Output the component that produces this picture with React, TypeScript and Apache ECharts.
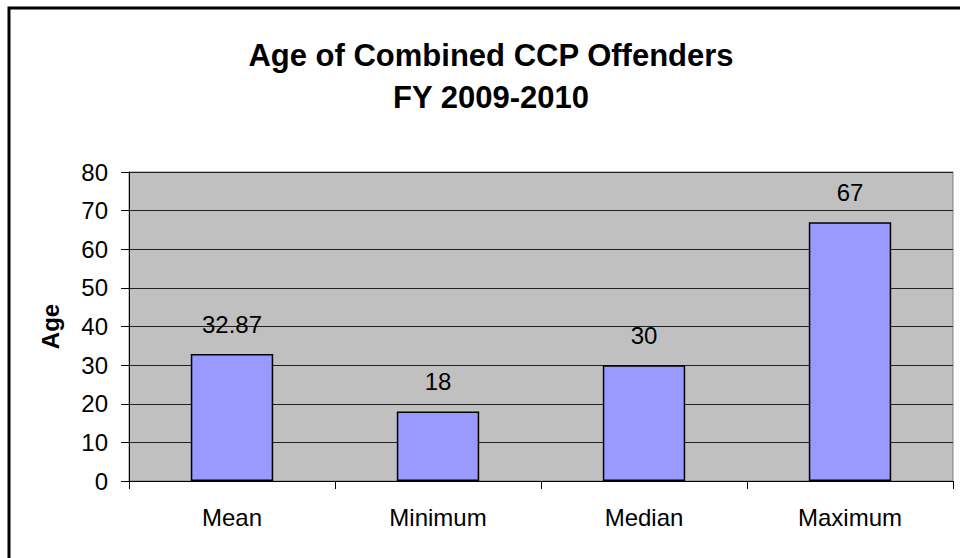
import React, { useEffect, useRef } from "react";
import * as echarts from "echarts";

const categories = ["Mean", "Minimum", "Median", "Maximum"];
const values = [32.87, 18, 30, 67];
const titleLines = ["Age of Combined CCP Offenders", "FY 2009-2010"];
const yAxisName = "Age";

const FONT = "'Liberation Sans', Arial, Helvetica, sans-serif";

export default function App() {
  const ref = useRef<HTMLDivElement>(null);
  useEffect(() => {
    if (!ref.current) return;
    const chart = echarts.init(ref.current, null, { renderer: "svg" });
    chart.setOption({
      animation: false,
      backgroundColor: "#ffffff",
      title: {
        text: titleLines.join("\n"),
        left: 491,
        top: 34,
        padding: 0,
        textAlign: "center",
        textStyle: {
          fontFamily: FONT,
          fontSize: 31,
          fontWeight: "bold",
          color: "#000",
          lineHeight: 42,
        },
      },
      graphic: [
        {
          type: "rect",
          shape: { x: 9, y: 8, width: 970, height: 570 },
          style: { fill: "none", stroke: "#000", lineWidth: 3 },
          silent: true,
        },
      ],
      grid: {
        left: 129,
        right: 7,
        top: 172,
        bottom: 77,
        show: true,
        backgroundColor: "#C0C0C0",
        borderColor: "#808080",
        borderWidth: 1,
      },
      xAxis: {
        type: "category",
        data: categories,
        boundaryGap: true,
        axisLine: { lineStyle: { color: "#000", width: 1 } },
        axisTick: { show: true, length: 8, alignWithLabel: false, lineStyle: { color: "#000" } },
        axisLabel: { fontFamily: FONT, fontSize: 24, color: "#000", margin: 24 },
      },
      yAxis: {
        type: "value",
        min: 0,
        max: 80,
        interval: 10,
        name: yAxisName,
        nameLocation: "middle",
        nameGap: 67,
        nameRotate: 90,
        nameTextStyle: { fontFamily: FONT, fontSize: 24, fontWeight: "bold", color: "#000" },
        axisLine: { show: true, lineStyle: { color: "#000", width: 1 } },
        axisTick: { show: true, length: 8, lineStyle: { color: "#000" } },
        axisLabel: { fontFamily: FONT, fontSize: 24, color: "#000", margin: 21 },
        splitLine: { show: true, lineStyle: { color: "#222", width: 1 } },
      },
      series: [
        {
          type: "bar",
          data: values,
          barWidth: "40%",
          itemStyle: { color: "#9999FF", borderColor: "#000", borderWidth: 1.5 },
          label: {
            show: true,
            position: "top",
            distance: 18,
            fontFamily: FONT,
            fontSize: 24,
            color: "#000",
          },
        },
      ],
    });
    return () => chart.dispose();
  }, []);
  return (
    <div
      ref={ref}
      style={{ position: "fixed", left: 0, top: 0, width: 960, height: 558 }}
    />
  );
}
